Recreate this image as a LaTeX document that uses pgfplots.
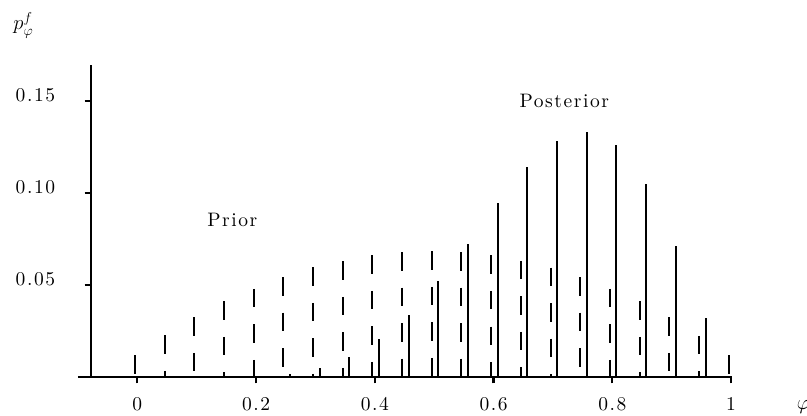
\documentclass[border=0pt]{standalone}
\usepackage{fontspec}
\setmainfont{lmroman10-regular.otf}[LetterSpace=8]
\usepackage{pgfplots}
\pgfplotsset{compat=1.18}
\pgfplotstableread{
x p
-0.004 0.0120
0.046 0.0228
0.096 0.0326
0.146 0.0413
0.196 0.0481
0.246 0.0545
0.296 0.0598
0.346 0.0630
0.396 0.0663
0.446 0.0680
0.496 0.0684
0.546 0.0680
0.596 0.0662
0.646 0.0633
0.696 0.0596
0.746 0.0545
0.796 0.0480
0.846 0.0413
0.896 0.0326
0.946 0.0225
0.996 0.0120
}\prior
\pgfplotstableread{
x p
0.207 0.0005
0.257 0.0016
0.307 0.0050
0.357 0.0110
0.407 0.0206
0.457 0.0340
0.507 0.0521
0.557 0.0727
0.607 0.0946
0.657 0.1145
0.707 0.1286
0.757 0.1335
0.807 0.1264
0.857 0.1049
0.907 0.0715
0.957 0.0322
}\posterior
\begin{document}
\fontsize{19.5bp}{23bp}\selectfont
\begin{tikzpicture}[font=\fontsize{19.5bp}{23bp}\selectfont]
\begin{axis}[
  font=\fontsize{19.5bp}{23bp}\selectfont,
  x=593.7bp, y=1840bp,
  xmin=-0.0785, xmax=1.0, ymin=0, ymax=0.1697,
  axis x line*=bottom, axis y line*=left,
  axis line style={line width=2.2bp, black},
  x axis line style={shorten <=-12.7bp, shorten >=-1bp},
  clip=false,
  tick align=outside, major tick length=6bp,
  tick style={line width=2.2bp, black},
  xtick={0,0.2,0.4,0.6,0.8,1}, ytick={0.05,0.1,0.15},
  /pgf/number format/assume math mode=true,
  yticklabel style={/pgf/number format/.cd, fixed, fixed zerofill, precision=2, /tikz/.cd, anchor=base east, inner sep=0pt, xshift=-29.4bp},
  xticklabel style={anchor=base, inner sep=0pt, yshift=-26.7bp},
]
\addplot[black, line width=2bp, dash pattern=on 18.5bp off 17bp, mark=none,
  quiver={u=0, v=-\thisrow{p}}] table[x=x, y=p] {\prior};
\addplot[black, line width=2bp, ycomb, mark=none] table[x=x, y=p] {\posterior};
\node[anchor=base, inner sep=0pt] at (axis cs:0.16,0.0817) {Prior};
\node[anchor=base, inner sep=0pt] at (axis cs:0.7192,0.1464) {Posterior};
\node[anchor=base west, inner sep=0pt] at (axis cs:-0.2089,0.1888) {$p_\varphi^f$};
\node[anchor=base west, inner sep=0pt] at (axis cs:1.1107,-0.0175) {$\varphi$};
\coordinate (bl) at (axis cs:-0.23126,-0.02049);
\coordinate (tr) at (axis cs:1.12793,0.20505);
\end{axis}
\pgfresetboundingbox
\path[use as bounding box] (bl) rectangle (tr);
\end{tikzpicture}
\end{document}
